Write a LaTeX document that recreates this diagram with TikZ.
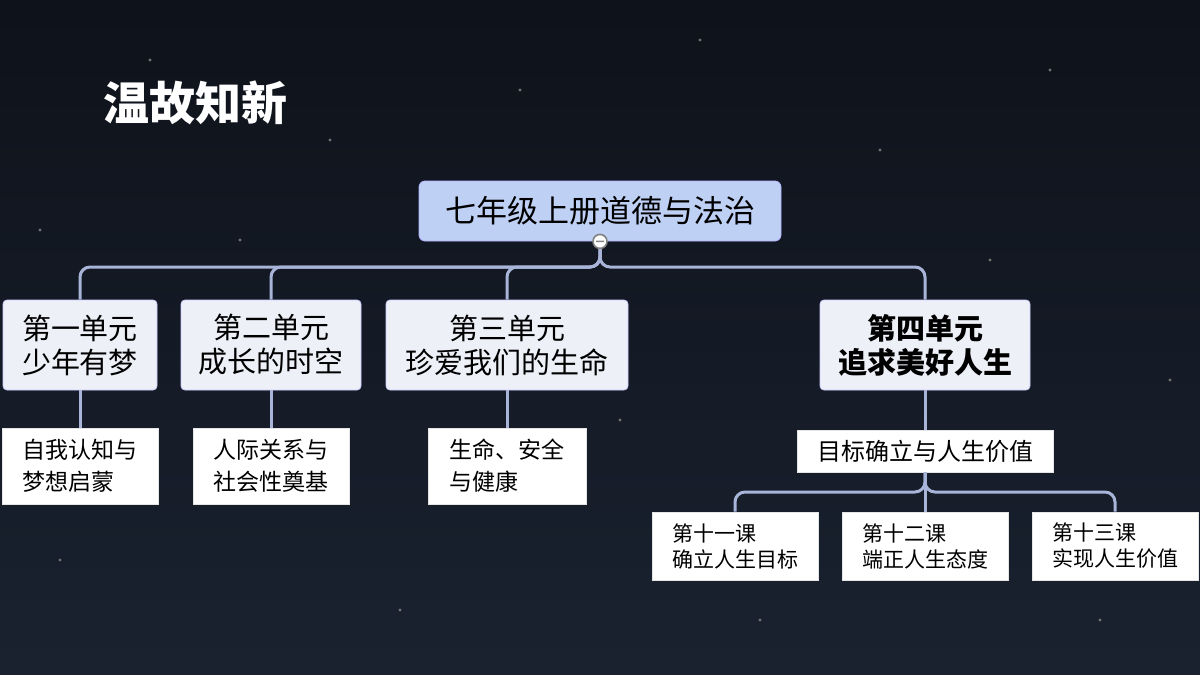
\documentclass[tikz,border=0pt]{standalone}
\usepackage{fontspec}
\setmainfont{Noto Sans CJK SC}
\usetikzlibrary{positioning}
\definecolor{bgtop}{HTML}{0E121A}
\definecolor{bgbot}{HTML}{1A2230}
\definecolor{topfill}{HTML}{BFD0F5}
\definecolor{unitfill}{HTML}{EEF0F8}
\definecolor{linkcol}{HTML}{A8B4D8}

\begin{document}
\begin{tikzpicture}[x=0.5pt,y=-0.5pt,
topnode/.style={draw=white!70!blue, fill=topfill, rounded corners=3pt, minimum width=181pt, minimum height=30pt, font=\fontsize{15.5}{18}\selectfont},
unitnode/.style={draw=white!80!blue, fill=unitfill, rounded corners=2pt, minimum height=45pt, align=center, font=\fontsize{14.5}{17}\selectfont},
subnode/.style={draw=white!80!gray, fill=white, minimum height=38pt, align=left, font=\fontsize{11.5}{16}\selectfont},
lessonnode/.style={draw=white!80!gray, fill=white, minimum width=83pt, minimum height=34pt, align=left, font=\fontsize{10.5}{13}\selectfont},
link/.style={draw=linkcol, line width=1.5pt, rounded corners=5pt}
]
    %Background
    \fill[top color=bgtop, bottom color=bgbot] (0,0) rectangle (1200,675);
    \useasboundingbox (0,0) rectangle (1200,675);
    \foreach \sx/\sy in {150/60,330/140,520/90,700/40,880/150,1050/70,240/240,990/260,60/560,400/610,760/620,1100/620,620/420,40/230,1170/380}
        \fill[white!45!black] (\sx,\sy) circle (0.8pt);

    %Title
    \node[white, font=\fontsize{23}{26}\selectfont\bfseries] (title) at (195,103) {温故知新};

    %Nodes
    \node[topnode]   (root) at (600,211) {七年级上册道德与法治};
    \node[unitnode, minimum width=77pt]  (u1) at (80,345)  {第一单元\\少年有梦};
    \node[unitnode, minimum width=90pt]  (u2) at (271,345) {第二单元\\成长的时空};
    \node[unitnode, minimum width=121pt] (u3) at (507,345) {第三单元\\珍爱我们的生命};
    \node[unitnode, minimum width=105pt, font=\fontsize{14.5}{17}\selectfont\bfseries] (u4) at (925,345) {第四单元\\追求美好人生};

    \node[subnode, minimum width=78pt] (s1) at (80,466)  {自我认知与\\梦想启蒙};
    \node[subnode, minimum width=78pt] (s2) at (271,466) {人际关系与\\社会性奠基};
    \node[subnode, minimum width=79pt] (s3) at (507,466) {生命、安全\\与健康};
    \node[subnode, minimum width=128pt, minimum height=21pt, font=\fontsize{12}{14}\selectfont] (s4) at (925,451) {目标确立与人生价值};

    \node[lessonnode] (l1) at (735,546)  {第十一课\\确立人生目标};
    \node[lessonnode] (l2) at (925,546)  {第十二课\\端正人生态度};
    \node[lessonnode] (l3) at (1115,546) {第十三课\\实现人生价值};

    \coordinate (bus) at (0,267);
    \coordinate (lbus) at (0,492);

    %Lines
    \draw[link] (root.south) -- (root.south |- bus) -| (u1.north);
    \draw[link] (root.south) -- (root.south |- bus) -| (u2.north);
    \draw[link] (root.south) -- (root.south |- bus) -| (u3.north);
    \draw[link] (root.south) -- (root.south |- bus) -| (u4.north);
    \foreach \u/\s in {u1/s1,u2/s2,u3/s3,u4/s4}
        \draw[link] (\u.south) -- (\s.north);
    \foreach \l in {l1,l2,l3}
        \draw[link] (s4.south) -- (s4.south |- lbus) -| (\l.north);
    \fill[white] (root.south) circle (3.5pt);
    \draw[gray, line width=0.8pt] (root.south) circle (3.5pt) ++(-2pt,0) -- ++(4pt,0);
\end{tikzpicture}
\end{document}
